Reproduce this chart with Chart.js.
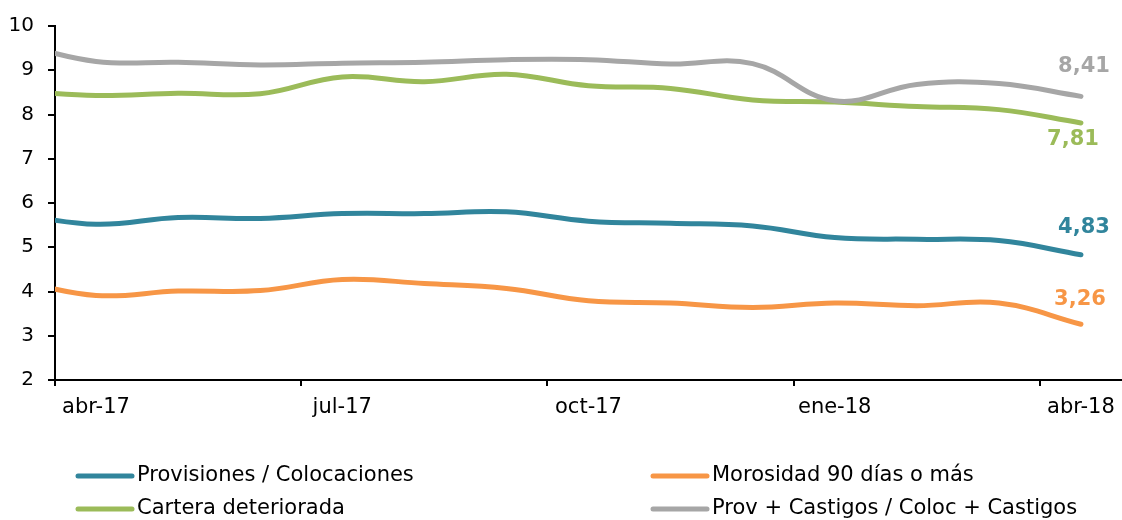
<!DOCTYPE html>
<html lang="es">
<head>
    <meta charset="UTF-8">
    <title>Indicadores de riesgo de crédito</title>
    <script src="https://cdn.jsdelivr.net/npm/chart.js"></script>
    <style>
        body {
            margin: 0;
            padding: 0;
            background: #fff;
        }

        .chart-box {
            width: 1122px;
            height: 520px;
        }
    </style>
</head>
<body>
    <div class="chart-box">
        <canvas id="riskChart" width="1122" height="520"></canvas>
    </div>

    <script>
        // monthly values, mar-17 .. abr-18 (mar-17 sits left of the axis and gets clipped)
        const months = ['mar-17', 'abr-17', 'may-17', 'jun-17', 'jul-17', 'ago-17', 'sep-17',
                        'oct-17', 'nov-17', 'dic-17', 'ene-18', 'feb-18', 'mar-18', 'abr-18'];
        const provisiones  = [5.76, 5.52, 5.67, 5.65, 5.76, 5.76, 5.80, 5.59, 5.54, 5.48, 5.22, 5.18, 5.15, 4.83];
        const morosidad    = [4.26, 3.91, 4.01, 4.02, 4.27, 4.18, 4.07, 3.79, 3.74, 3.64, 3.74, 3.68, 3.74, 3.26];
        const cartera      = [8.54, 8.43, 8.48, 8.47, 8.85, 8.74, 8.91, 8.65, 8.59, 8.33, 8.28, 8.18, 8.11, 7.81];
        const provCastigos = [9.62, 9.20, 9.18, 9.12, 9.16, 9.18, 9.24, 9.24, 9.14, 9.15, 8.31, 8.68, 8.70, 8.41];

        // x axis: months counted from abr-17
        const tickMonths = [0, 3, 6, 9, 12];
        const tickLabels = ['abr-17', 'jul-17', 'oct-17', 'ene-18', 'abr-18'];

        const FONT = '"DejaVu Sans", Verdana, sans-serif';

        // each month is plotted at the middle of its month
        function toPoints(values) {
            return values.map((v, i) => ({ x: i - 0.5, y: v }));
        }

        function series(label, values, color, order, labelDx, labelDy) {
            return {
                label: label,
                data: toPoints(values),
                borderColor: color,
                backgroundColor: color,
                borderWidth: 5,
                borderCapStyle: 'round',
                borderJoinStyle: 'round',
                pointRadius: 0,
                tension: 0.4,
                order: order,
                endLabel: { dx: labelDx, dy: labelDy }
            };
        }

        // legend in two columns, row by row
        const gridLegend = {
            id: 'gridLegend',
            afterDraw(chart) {
                const ctx = chart.ctx;
                const cols = [78, 653];
                const rows = [476, 509];
                ctx.save();
                ctx.font = '21px ' + FONT;
                ctx.textBaseline = 'middle';
                ctx.textAlign = 'left';
                chart.data.datasets.forEach((ds, i) => {
                    const x = cols[i % 2];
                    const y = rows[Math.floor(i / 2)];
                    ctx.strokeStyle = ds.borderColor;
                    ctx.lineWidth = 5;
                    ctx.lineCap = 'round';
                    ctx.beginPath();
                    ctx.moveTo(x, y);
                    ctx.lineTo(x + 54, y);
                    ctx.stroke();
                    ctx.fillStyle = '#000';
                    ctx.fillText(ds.label, x + 59, y);
                });
                ctx.restore();
            }
        };

        // bold value next to the last point of every line
        const endLabels = {
            id: 'endLabels',
            afterDatasetsDraw(chart) {
                const ctx = chart.ctx;
                ctx.save();
                ctx.font = 'bold 21px ' + FONT;
                ctx.textAlign = 'center';
                ctx.textBaseline = 'middle';
                chart.data.datasets.forEach((ds, i) => {
                    const meta = chart.getDatasetMeta(i);
                    const last = meta.data[meta.data.length - 1];
                    const value = ds.data[ds.data.length - 1].y;
                    ctx.fillStyle = ds.borderColor;
                    ctx.fillText(value.toFixed(2).replace('.', ','), last.x + ds.endLabel.dx, last.y + ds.endLabel.dy);
                });
                ctx.restore();
            }
        };

        const riskChart = new Chart(document.getElementById('riskChart').getContext('2d'), {
            type: 'line',
            data: {
                datasets: [
                    series('Provisiones / Colocaciones', provisiones, '#31859C', 3, 3, -27),
                    series('Morosidad 90 días o más', morosidad, '#F79646', 2, -1, -25),
                    series('Cartera deteriorada', cartera, '#9BBB59', 1, -8, 17),
                    series('Prov + Castigos / Coloc + Castigos', provCastigos, '#A6A6A6', 0, 3, -30)
                ]
            },
            options: {
                responsive: false,
                animation: false,
                devicePixelRatio: 1,
                layout: {
                    padding: { top: 20, right: 0, bottom: 0, left: 0 }
                },
                plugins: {
                    legend: { display: false },
                    tooltip: { enabled: false }
                },
                scales: {
                    x: {
                        type: 'linear',
                        min: 0,
                        max: 13,
                        afterBuildTicks: axis => {
                            axis.ticks = tickMonths.map(v => ({ value: v }));
                        },
                        afterFit: axis => {
                            axis.height = 140;
                        },
                        ticks: {
                            autoSkip: false,
                            maxRotation: 0,
                            labelOffset: 41,
                            padding: 9,
                            color: '#000',
                            font: { family: FONT, size: 21 },
                            callback: (value, index) => tickLabels[index]
                        },
                        grid: {
                            drawOnChartArea: false,
                            tickLength: 6,
                            color: '#000',
                            lineWidth: 2
                        },
                        border: { color: '#000', width: 2 }
                    },
                    y: {
                        min: 2,
                        max: 10,
                        afterFit: axis => {
                            axis.width = 55;
                        },
                        ticks: {
                            stepSize: 1,
                            padding: 14,
                            color: '#000',
                            font: { family: FONT, size: 20 }
                        },
                        grid: {
                            drawOnChartArea: false,
                            tickLength: 7,
                            color: '#000',
                            lineWidth: 2
                        },
                        border: { color: '#000', width: 2 }
                    }
                }
            },
            plugins: [endLabels, gridLegend]
        });
    </script>
</body>
</html>
